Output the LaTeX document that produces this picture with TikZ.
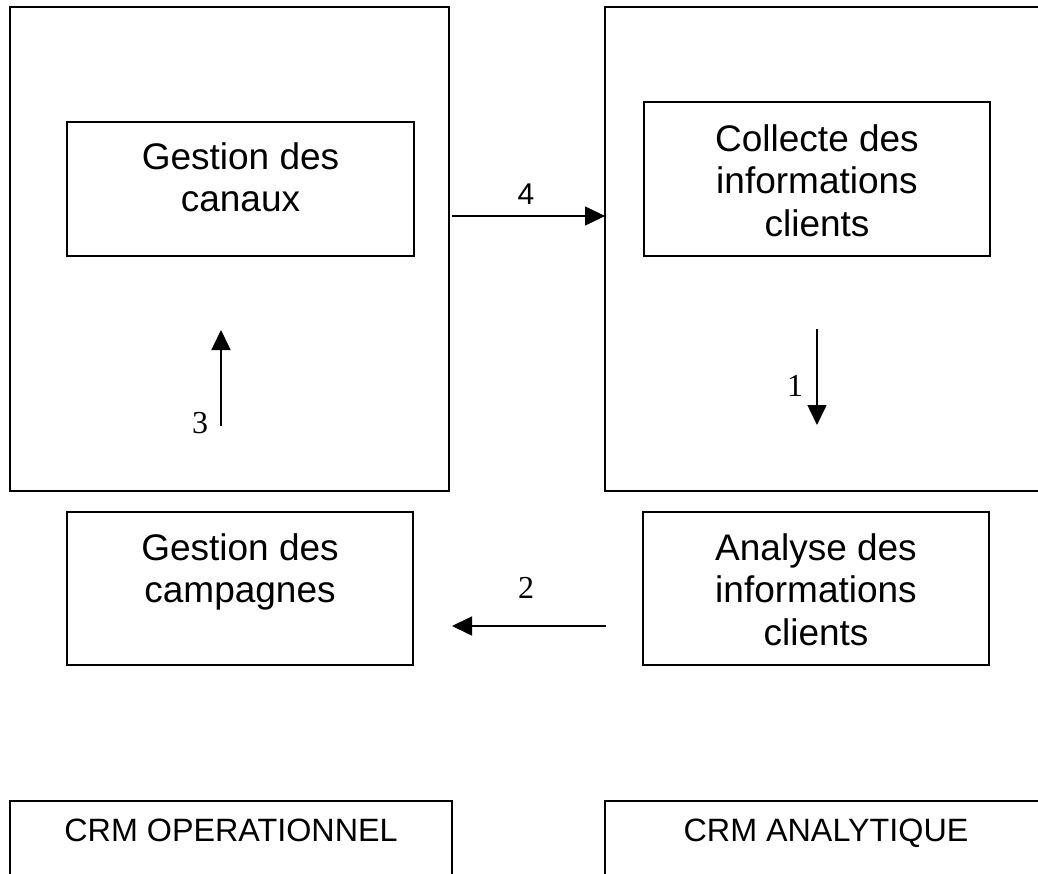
\documentclass[tikz,border=0pt]{standalone}
\usepackage{fontspec}
\setmainfont{Liberation Sans}
\newfontfamily\serifdigits{Liberation Serif}
\usetikzlibrary{arrows.meta}
\tikzset{
  box/.style={draw, line width=1.3pt, anchor=north west, inner sep=0pt, outer sep=0pt},
  boxtext/.style={anchor=north, inner sep=0pt, align=center, font=\fontsize{37}{42.5}\selectfont},
  crmtext/.style={anchor=north, inner sep=0pt, align=center, font=\fontsize{32.3}{36}\selectfont},
  numlabel/.style={inner sep=0pt, font=\serifdigits\fontsize{32}{36}\selectfont},
  numlabelsans/.style={inner sep=0pt, font=\fontsize{30}{34}\selectfont},
  arr/.style={line width=1.6pt, -{Triangle[length=20pt,width=19pt]}}
}
\begin{document}
\begin{tikzpicture}[x=1pt,y=-1pt]
\useasboundingbox (0,0) rectangle (1038,874);
\clip (0,0) rectangle (1038,874);
\fill[white] (0,0) rectangle (1038,874);
% big boxes
\node[box, minimum width=439pt, minimum height=484pt] (opbig) at (10,7) {};
\node[box, minimum width=442pt, minimum height=484pt] (anbig) at (605,7) {};
% inner boxes
\node[box, minimum width=347pt, minimum height=134pt] (canaux) at (67,122) {};
\node[box, minimum width=346pt, minimum height=154pt] (collecte) at (644,102) {};
\node[box, minimum width=346pt, minimum height=153pt] (campagnes) at (67,512) {};
\node[box, minimum width=346pt, minimum height=153pt] (analyse) at (643,512) {};
% bottom boxes
\node[box, minimum width=442pt, minimum height=150pt] (crmop) at (10,801) {};
\node[box, minimum width=442pt, minimum height=150pt] (crman) at (605,801) {};
% texts
\node[boxtext] (tcanaux) at (240.5,142) {Gestion des\\canaux};
\node[boxtext] (tcollecte) at (817,124) {Collecte des\\informations\\clients};
\node[boxtext] (tcampagnes) at (240,533) {Gestion des\\campagnes};
\node[boxtext] (tanalyse) at (816,533) {Analyse des\\informations\\clients};
\node[crmtext] (tcrmop) at (231,819) {CRM OPERATIONNEL};
\node[crmtext] (tcrman) at (826,819) {CRM ANALYTIQUE};
% arrows
\coordinate (a4s) at (452,216);
\coordinate (a4e) at (605,216);
\draw[arr] (a4s) -- (a4e);
\node[numlabelsans] (l4) at (526,194.5) {4};
\coordinate (a2s) at (606,626);
\coordinate (a2e) at (452,626);
\draw[arr] (a2s) -- (a2e);
\node[numlabel] (l2) at (526,587.5) {2};
\coordinate (a3s) at (221,426);
\coordinate (a3e) at (221,330);
\draw[arr] (a3s) -- (a3e);
\node[numlabel] (l3) at (200,423) {3};
\coordinate (a1s) at (817,329);
\coordinate (a1e) at (817,425);
\draw[arr] (a1s) -- (a1e);
\node[numlabel] (l1) at (795,385.5) {1};
\end{tikzpicture}
\end{document}
